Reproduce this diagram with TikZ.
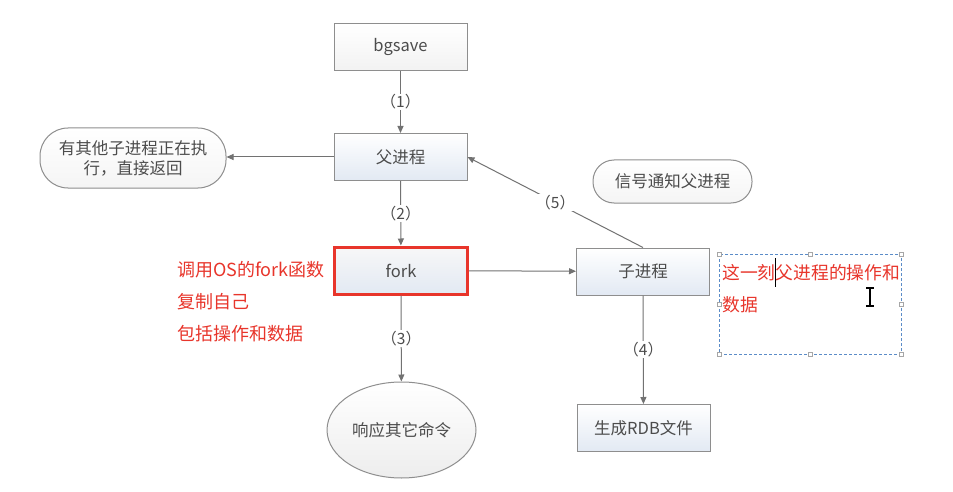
\documentclass[tikz,border=0pt]{standalone}
\usepackage{fontspec}
\setmainfont{Noto Sans CJK SC}
\usetikzlibrary{arrows.meta,shapes.geometric}

\definecolor{ink}{HTML}{4C4C4C}
\definecolor{edgegray}{HTML}{727272}
\definecolor{frame}{HTML}{8E8E8E}
\definecolor{paleblue}{HTML}{E2E9F3}
\definecolor{alert}{HTML}{E8352B}
\definecolor{selblue}{HTML}{5B8CC8}

\begin{document}
\begin{tikzpicture}[x=1pt,y=-1pt,
  every node/.style={font=\fontsize{16.5}{20}\selectfont, text=ink},
  procbox/.style={draw=frame, line width=1pt, top color=white, bottom color=paleblue,
    minimum width=133pt, minimum height=47pt, inner sep=0pt},
  pill/.style={draw=frame, line width=1pt, top color=white, bottom color=gray!8, inner sep=0pt},
  flow/.style={draw=edgegray, line width=1pt, -{Triangle[length=7pt,width=6pt]}},
  steplabel/.style={fill=white, inner sep=1pt, font=\fontsize{15.5}{17}\selectfont},
  note/.style={text=alert, font=\fontsize{18}{20}\selectfont, anchor=west, inner sep=0pt},
  handle/.style={draw=gray!70, fill=white, line width=0.6pt, minimum size=4pt, inner sep=0pt}
]
\useasboundingbox (0,0) rectangle (953,492);
\fill[white] (0,0) rectangle (953,492);

% process boxes
\node[procbox, bottom color=gray!10] (bgsave) at (400.5,47) {bgsave};
\node[procbox] (parent) at (400.5,157) {父进程};
\node[procbox, draw=alert, line width=3pt, top color=gray!6, bottom color=paleblue] (fork) at (401,270.5) {fork};
\node[procbox] (child) at (643,271.5) {子进程};
\node[procbox] (rdb) at (643.5,428) {生成RDB文件};

% rounded and elliptic outcomes
\node[pill, minimum width=186pt, minimum height=60pt, rounded corners=28pt, align=center]
  (busy) at (133,158) {有其他子进程正在执\\行，直接返回};
\node[pill, minimum width=159pt, minimum height=43pt, rounded corners=21pt]
  (signal) at (672.5,181.5) {信号通知父进程};
\node[ellipse, draw=frame, line width=1pt, top color=white, bottom color=gray!14,
  minimum width=149pt, minimum height=96pt, inner sep=0pt] (reply) at (401.5,430) {响应其它命令};

% connectors
\draw[flow] (bgsave) -- node[steplabel]{（1）} (parent);
\draw[flow] (parent.west) -- (busy.east |- parent.west);
\draw[flow] (parent) -- node[steplabel]{（2）} (fork);
\draw[flow] (fork) -- (child);
\draw[flow] (fork) -- node[steplabel]{（3）} (reply);
\draw[flow] (child) -- node[steplabel]{（4）} (rdb);
\draw[flow] (child.north) -- node[steplabel]{（5）} (parent.east);

% notes on the fork step
\node[note] (n1) at (177,270) {调用OS的fork函数};
\node[note] (n2) at (177,302) {复制自己};
\node[note] (n3) at (177,334) {包括操作和数据};

% text frame being edited, with its handles
\draw[selblue, line width=0.8pt, dash pattern=on 3pt off 2pt] (719,254) rectangle (901,354);
\foreach \hx in {719,810,901}{
  \node[handle] at (\hx,254) {};
  \node[handle] at (\hx,354) {};
}
\node[handle] at (719,304) {};
\node[handle] at (901,304) {};
\node[note, font=\fontsize{17.8}{20}\selectfont] (n4) at (722,273) {这一刻父进程的操作和};
\node[note, font=\fontsize{17.8}{20}\selectfont] (n5) at (722,305) {数据};

% caret and I-beam pointer
\draw[black, line width=1pt] (775,258) -- (775,287);
\draw[black, line width=1.2pt] (870,288) -- (870,306) (866,288) -- (874,288) (866,306) -- (874,306);
\end{tikzpicture}
\end{document}
